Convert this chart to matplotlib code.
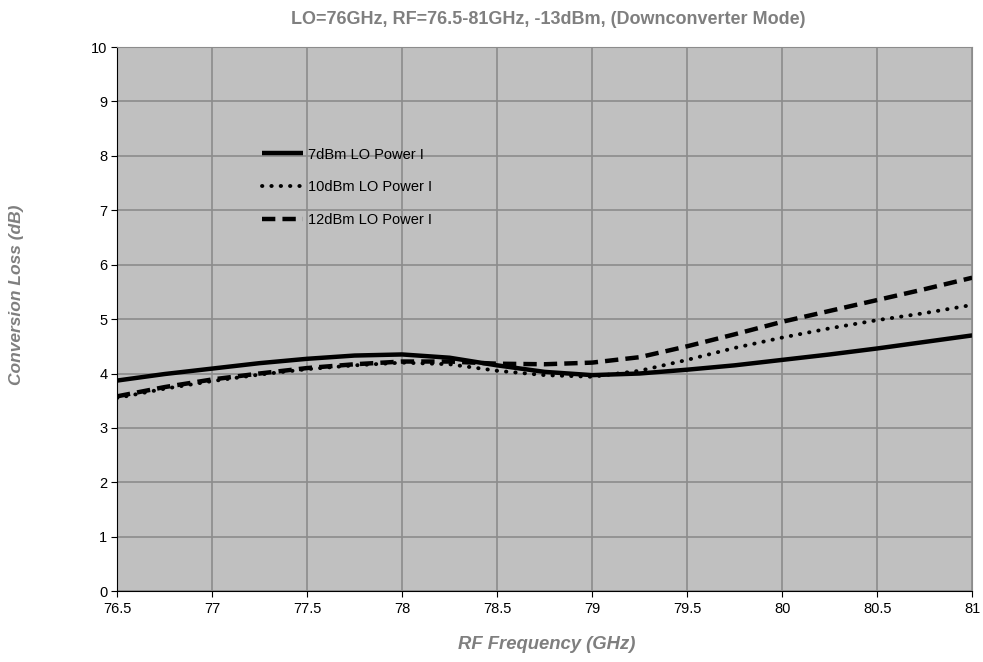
import matplotlib
matplotlib.use("Agg")
import matplotlib.pyplot as plt

freq = [76.5, 76.75, 77.0, 77.25, 77.5, 77.75, 78.0, 78.25, 78.5, 78.75, 79.0, 79.25, 79.5, 79.75, 80.0, 80.25, 80.5, 80.75, 81.0]
lo7 = [3.87, 3.99, 4.09, 4.19, 4.27, 4.33, 4.35, 4.29, 4.15, 4.03, 3.97, 4.00, 4.07, 4.15, 4.25, 4.35, 4.46, 4.58, 4.70]
lo10 = [3.55, 3.72, 3.86, 3.98, 4.08, 4.15, 4.20, 4.17, 4.05, 3.97, 3.94, 4.05, 4.25, 4.47, 4.66, 4.83, 4.98, 5.11, 5.26]
lo12 = [3.58, 3.75, 3.89, 4.00, 4.10, 4.17, 4.22, 4.22, 4.18, 4.17, 4.20, 4.30, 4.50, 4.72, 4.95, 5.15, 5.35, 5.55, 5.76]
xticks = [76.5, 77, 77.5, 78, 78.5, 79, 79.5, 80, 80.5, 81]
xticklabels = ["76.5", "77", "77.5", "78", "78.5", "79", "79.5", "80", "80.5", "81"]
yticks = list(range(0, 11))

plt.rcParams['font.family'] = ['Liberation Sans', 'DejaVu Sans']

fig = plt.figure(figsize=(9.83, 6.62), dpi=100)
ax = fig.add_axes([0.119, 0.107, 0.870, 0.822])
ax.set_facecolor('#C0C0C0')

ax.plot(freq, lo7, color='black', lw=3.2, linestyle='-', label='7dBm LO Power I', solid_capstyle='butt')
ax.plot(freq, lo10, color='black', lw=2.8, linestyle=(0, (0.1, 2.3)), dash_capstyle='round', label='10dBm LO Power I')
ax.plot(freq, lo12, color='black', lw=3.2, linestyle=(0, (3.0, 1.6)), label='12dBm LO Power I')

ax.set_xlim(76.5, 81)
ax.set_ylim(0, 10)
ax.set_xticks(xticks)
ax.set_xticklabels(xticklabels)
ax.set_yticks(yticks)
ax.grid(True, color='#8C8C8C', lw=1.2)
ax.set_axisbelow(True)
ax.tick_params(axis='both', labelsize=10.5, length=4, color='black', direction='out')
ax.tick_params(axis='x', pad=4)
ax.tick_params(axis='y', pad=3)
for s in ['top', 'right']:
    ax.spines[s].set_color('#8C8C8C')
ax.spines['left'].set_color('black')
ax.spines['bottom'].set_color('black')

fig.text(0.558, 0.971, 'LO=76GHz, RF=76.5-81GHz, -13dBm, (Downconverter Mode)', ha='center', va='center',
         fontsize=13, fontweight='bold', color='#7F7F7F')
fig.text(0.556, 0.026, 'RF Frequency (GHz)', ha='center', va='center',
         fontsize=13.3, fontweight='bold', fontstyle='italic', color='#7F7F7F')
fig.text(0.017, 0.554, 'Conversion Loss (dB)', rotation=90, ha='center', va='center',
         fontsize=12.5, fontweight='bold', fontstyle='italic', color='#7F7F7F')

leg = ax.legend(loc='upper left', bbox_to_anchor=(0.1625, 0.826), frameon=False, fontsize=10.5,
                handlelength=2.85, handletextpad=0.3, labelspacing=1.3, borderaxespad=0)

fig.savefig('out.png', dpi=100)
